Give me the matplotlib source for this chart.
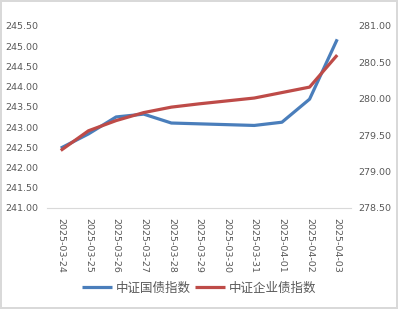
import matplotlib
matplotlib.use('Agg')
import matplotlib.pyplot as plt
import numpy as np

# data
dates = ['2025-03-24', '2025-03-25', '2025-03-26', '2025-03-27', '2025-03-28', '2025-03-29',
         '2025-03-30', '2025-03-31', '2025-04-01', '2025-04-02', '2025-04-03']
gov_bond = [242.48, 242.83, 243.25, 243.32, 243.10, 243.08, 243.06, 243.04, 243.12, 243.69, 245.17]
corp_bond = [279.29, 279.56, 279.70, 279.81, 279.885, 279.93, 279.97, 280.01, 280.085, 280.16, 280.60]
left_ticks = np.arange(241.0, 245.51, 0.5)
right_ticks = np.arange(278.5, 281.01, 0.5)

blue = '#4a7ebb'
red = '#be4b48'
txt = '#595959'
cjk = ['Noto Sans CJK SC', 'DejaVu Sans']

fig = plt.figure(figsize=(3.98, 3.09), dpi=100)
fig.patch.set_edgecolor('#d9d9d9')
fig.patch.set_linewidth(1.5)
ax = fig.add_axes([0.118, 0.327, 0.764, 0.589])
ax2 = ax.twinx()

x = np.arange(len(dates))
l1, = ax.plot(x, gov_bond, color=blue, lw=2.3, solid_capstyle='butt', label='中证国债指数')
l2, = ax2.plot(x, corp_bond, color=red, lw=2.3, solid_capstyle='butt', label='中证企业债指数')
ax2.set_zorder(ax.get_zorder() + 1)

ax.set_xlim(-0.5, len(dates) - 0.5)
ax.set_ylim(241.0, 245.5)
ax2.set_ylim(278.5, 281.0)
ax.set_yticks(left_ticks)
ax.set_yticklabels([f'{v:.2f}' for v in left_ticks])
ax2.set_yticks(right_ticks)
ax2.set_yticklabels([f'{v:.2f}' for v in right_ticks])
ax.set_xticks(x)
ax.set_xticklabels(dates, rotation=-90, va='top', ha='center')

for a in (ax, ax2):
    for s in a.spines.values():
        s.set_visible(False)
    a.tick_params(length=0, labelsize=6.8, labelcolor=txt)
ax.spines['bottom'].set_visible(True)
ax.spines['bottom'].set_color('#d9d9d9')
ax.tick_params(axis='y', pad=6)
ax.tick_params(axis='x', pad=7)
ax2.tick_params(axis='y', pad=5.5)

fig.legend(handles=[l1, l2], loc='center', bbox_to_anchor=(0.5, 0.068), ncol=2,
           frameon=False, prop={'family': cjk, 'size': 9}, labelcolor=txt,
           handlelength=2.4, handletextpad=0.3, columnspacing=0.3)

fig.savefig('out.png', dpi=100)
